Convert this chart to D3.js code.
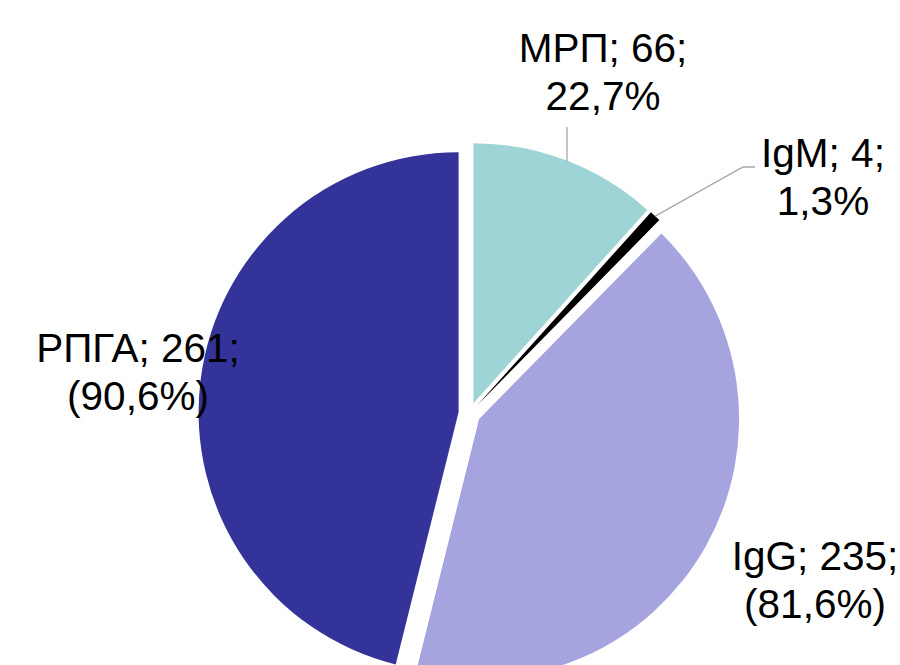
<!DOCTYPE html>
<html>
<head>
<meta charset="utf-8">
<script src="https://cdn.jsdelivr.net/npm/d3@7"></script>
<style>
  body { margin: 0; background: #fff; }
  text { font-family: "Liberation Sans", Arial, sans-serif; fill: #000; }
</style>
</head>
<body>
<svg id="chart" width="900" height="665"></svg>
<script>
// slices, clockwise from 12 o'clock
var categories = ["МРП", "IgM", "IgG", "РПГА"];
var values = [66, 4, 235, 261];
var percents = ["22,7%", "1,3%", "(81,6%)", "(90,6%)"];
var colors = ["#9fd4d7", "#000000", "#a5a4de", "#343399"];

// label centre (x, first baseline) for each slice
var labelPos = [[603, 62], [823, 167], [815, 570], [138, 362]];

var svg = d3.select("#chart"),
    cx = 469.5, cy = 413.5,
    radius = 260,
    explode = 11;

var g = svg.append("g").attr("transform", "translate(" + cx + "," + cy + ")");

var pie = d3.pie().sort(null).value(function(d) { return d; });
var arc = d3.arc().innerRadius(0).outerRadius(radius);

var arcs = pie(values);

function midAngle(d) { return (d.startAngle + d.endAngle) / 2; }
function offset(d) {
  var a = midAngle(d);
  return [explode * Math.sin(a), -explode * Math.cos(a)];
}

g.selectAll("path")
  .data(arcs)
  .enter().append("path")
  .attr("d", arc)
  .attr("fill", function(d, i) { return colors[i]; })
  .attr("transform", function(d) { return "translate(" + offset(d) + ")"; });

// leader lines (МРП and IgM)
var leaders = svg.append("g")
  .attr("fill", "none")
  .attr("stroke", "#a6a6a6")
  .attr("stroke-width", 1.3);

// МРП: vertical line down to the slice's arc
var lx = 567,
    o0 = offset(arcs[0]),
    arcY = cy + o0[1] - Math.sqrt(radius * radius - Math.pow(lx - cx - o0[0], 2));
leaders.append("line")
  .attr("x1", lx).attr("y1", 127)
  .attr("x2", lx).attr("y2", arcY + 1);

// IgM: from the tip of the thin slice to the label
var aIgm = midAngle(arcs[1]),
    rIgm = radius + explode,
    pIgm = [cx + rIgm * Math.sin(aIgm), cy - rIgm * Math.cos(aIgm)];
leaders.append("polyline")
  .attr("points", [pIgm, [743, 167], [755, 167]].map(function(p) { return p.join(","); }).join(" "));

// labels
var labels = svg.selectAll("text.label")
  .data(arcs)
  .enter().append("text")
  .attr("class", "label")
  .attr("text-anchor", "middle")
  .attr("font-size", 40.5);

labels.append("tspan")
  .attr("x", function(d, i) { return labelPos[i][0]; })
  .attr("y", function(d, i) { return labelPos[i][1]; })
  .text(function(d, i) { return categories[i] + "; " + values[i] + ";"; });

labels.append("tspan")
  .attr("x", function(d, i) { return labelPos[i][0]; })
  .attr("y", function(d, i) { return labelPos[i][1] + 48; })
  .text(function(d, i) { return percents[i]; });
</script>
</body>
</html>
